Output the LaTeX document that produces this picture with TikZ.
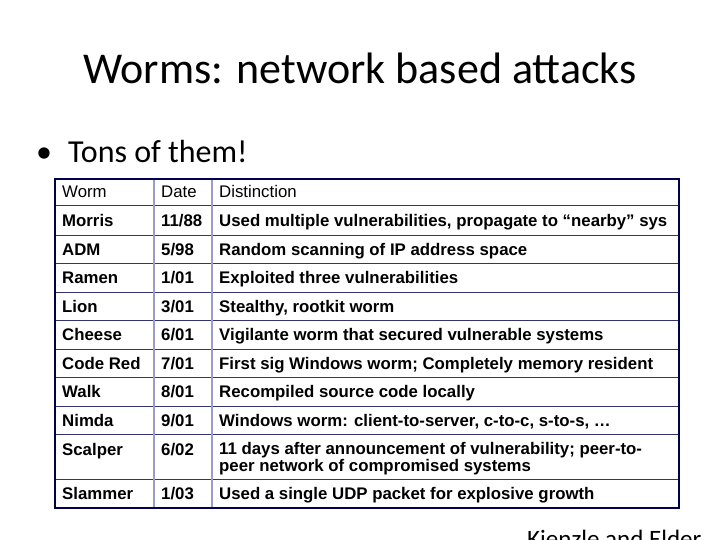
\documentclass[tikz,border=0pt]{standalone}
\usepackage{fontspec}
\setmainfont{Carlito}
\newfontfamily\arialf{Liberation Sans}
\begin{document}
\begin{tikzpicture}[x=1pt,y=-1pt,
  cell/.style={anchor=base west,inner sep=0pt,font=\arialf\bfseries\fontsize{16.8}{17.5}\selectfont,align=left},
  hcell/.style={anchor=base west,inner sep=0pt,font=\arialf\fontsize{16.8}{17.5}\selectfont},
  hline/.style={draw=black!70!blue!80!white,line width=1pt},
  vline/.style={draw=blue!30!gray!60,line width=1.2pt}]
\useasboundingbox (0,0) rectangle (720,540);
\node[font=\fontsize{44}{48}\selectfont,inner sep=0pt] (title) at (360,68) {Worms: network based attacks};
\node[anchor=west,font=\fontsize{32}{36}\selectfont,inner sep=0pt] (bul) at (36,152) {•\hspace{16pt}Tons of them!};
% grid
\foreach \y in {206,235,263,292,320,349,377,406,434,479}{\draw[hline] (55,\y) -- (679,\y);}
\draw[vline] (154,179) -- (154,508);
\draw[vline] (212,179) -- (212,508);
\draw[draw=black!70!blue,line width=1.8pt] (55,179) rectangle (679,508);
\node[hcell] (h1) at (62,198) {Worm};
\node[hcell] (h2) at (161,198) {Date};
\node[hcell] (h3) at (219,198) {Distinction};
\foreach \n/\w/\d/\t/\y in {a/Morris/11\slash 88/{Used multiple vulnerabilities, propagate to “nearby” sys}/226,
 b/ADM/5\slash 98/{Random scanning of IP address space}/255,
 c/Ramen/1\slash 01/{Exploited three vulnerabilities}/283,
 d/Lion/3\slash 01/{Stealthy, rootkit worm}/312,
 e/Cheese/6\slash 01/{Vigilante worm that secured vulnerable systems}/340,
 f/Code Red/7\slash 01/{First sig Windows worm; Completely memory resident}/369,
 g/Walk/8\slash 01/{Recompiled source code locally}/397,
 h/Nimda/9\slash 01/{Windows worm: client-to-server, c-to-c, s-to-s, …}/426,
 j/Slammer/1\slash 03/{Used a single UDP packet for explosive growth}/499}{
 \node[cell] (w\n) at (62,\y) {\w};
 \node[cell] (d\n) at (161,\y) {\d};
 \node[cell] (t\n) at (219,\y) {\t};}
\node[cell] (wi) at (62,455) {Scalper};
\node[cell] (di) at (161,455) {6/02};
\node[cell,anchor=north west] (ti) at (219,442) {11 days after announcement of vulnerability; peer-to-\\peer network of compromised systems};
\node[font=\fontsize{25}{30}\selectfont,inner sep=0pt,anchor=north west] (cred) at (527,530) {Kienzle and Elder};
\end{tikzpicture}
\end{document}
